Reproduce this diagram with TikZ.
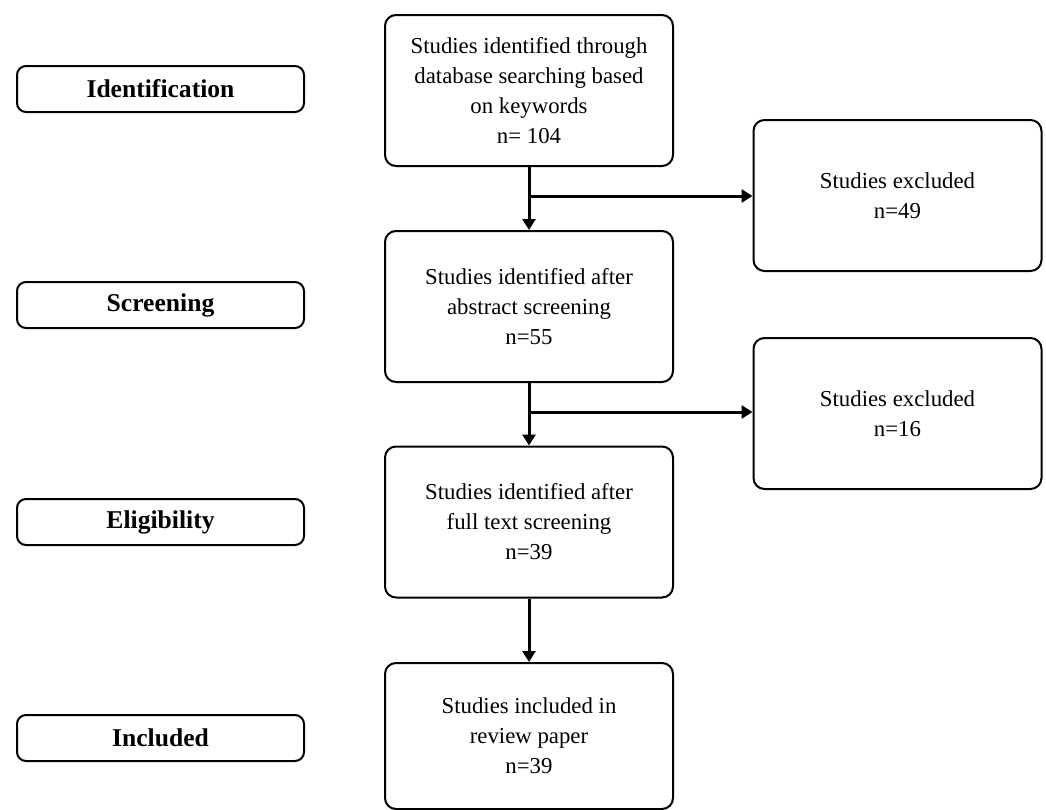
\documentclass[tikz,border=0pt]{standalone}
\usepackage{fontspec}
\setmainfont{Liberation Serif}
\usetikzlibrary{arrows.meta}
\tikzset{
  stage/.style={draw, line width=2pt, rounded corners=9pt, minimum width=287pt, minimum height=46pt, inner sep=0pt, font=\fontsize{25.6}{30}\selectfont\bfseries},
  flowbox/.style={draw, line width=2pt, rounded corners=11pt, minimum width=288pt, minimum height=151pt, inner sep=0pt, align=center, font=\fontsize{22.8}{30}\selectfont},
  arr/.style={line width=3pt, -{Triangle[length=11pt,width=13pt]}},
  plain/.style={line width=3pt}
}
\begin{document}
\begin{tikzpicture}[x=1pt,y=-1pt]
\useasboundingbox (0,0) rectangle (1046,809);
% stage labels
\node[stage] (s1) at (160.5,89) {Identification};
\node[stage] (s2) at (160.5,305) {Screening};
\node[stage] (s3) at (160.5,522) {Eligibility};
\node[stage] (s4) at (160.5,738) {Included};
% main flow
\node[flowbox] (b1) at (529,90.5) {Studies identified through\\database searching based\\on keywords\\n= 104};
\node[flowbox] (b2) at (529,306.5) {Studies identified after\\abstract screening\\n=55};
\node[flowbox] (b3) at (529,522) {Studies identified after\\full text screening\\n=39};
\node[flowbox, minimum height=146pt] (b4) at (529,736) {Studies included in\\review paper\\n=39};
% excluded
\node[flowbox] (r1) at (897.5,195.5) {Studies excluded\\n=49};
\node[flowbox] (r2) at (897.5,413.5) {Studies excluded\\n=16};
% connectors
\draw[arr] (b1) -- (b2);
\draw[arr] (b2) -- (b3);
\draw[arr] (b3) -- (b4);
\coordinate (j1) at (529,196);
\coordinate (j2) at (529,412);
\draw[arr] (j1) -- (j1 -| r1.west);
\draw[arr] (j2) -- (j2 -| r2.west);
\end{tikzpicture}
\end{document}
